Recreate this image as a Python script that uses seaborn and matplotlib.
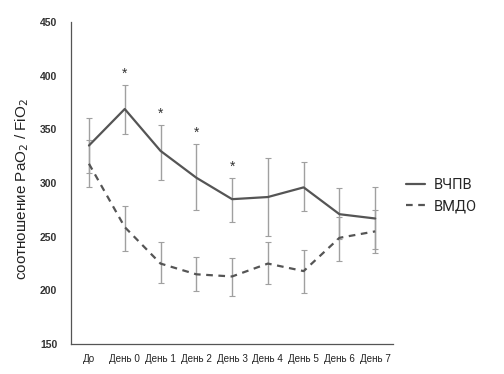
import matplotlib
matplotlib.use("Agg")
import matplotlib.pyplot as plt
import seaborn as sns
import pandas as pd

# ─── Данные ──────────────────────────────────────────────────────────────────
DAYS = ["До", "День 0", "День 1", "День 2", "День 3",
        "День 4", "День 5", "День 6", "День 7"]

VCHPV_MEAN = [335, 369, 330, 305, 285, 287, 296, 271, 267]
VCHPV_LOW  = [309, 346, 303, 275, 264, 251, 274, 248, 239]
VCHPV_HIGH = [361, 391, 354, 336, 305, 323, 320, 295, 296]

VMDO_MEAN = [318, 259, 225, 215, 213, 225, 218, 249, 255]
VMDO_LOW  = [296, 237, 207, 199, 195, 206, 198, 227, 235]
VMDO_HIGH = [340, 279, 245, 231, 230, 245, 238, 268, 275]

SIGNIF = [1, 2, 3, 4]   # индексы дней со звёздочкой

GRIS = "#555555"
GRIS_CLARO = "#a0a0a0"

sns.set_theme(style="white")
plt.rcParams["font.family"] = ["Liberation Sans", "DejaVu Sans"]

df = pd.DataFrame({
    "day": DAYS * 2,
    "val": VCHPV_MEAN + VMDO_MEAN,
    "group": ["ВЧПВ"] * len(DAYS) + ["ВМДО"] * len(DAYS),
})

fig = plt.figure(figsize=(5.04, 3.74), dpi=100)
ax = fig.add_axes([0.141, 0.080, 0.639, 0.861])

# barras de error
xs = list(range(len(DAYS)))
for mean, low, high in [(VCHPV_MEAN, VCHPV_LOW, VCHPV_HIGH),
                        (VMDO_MEAN, VMDO_LOW, VMDO_HIGH)]:
    err = [[m - l for m, l in zip(mean, low)], [h - m for m, h in zip(mean, high)]]
    ax.errorbar(xs, mean, yerr=err, fmt="none", ecolor=GRIS_CLARO,
                elinewidth=1.0, capsize=2, capthick=0.8, zorder=1)

sns.lineplot(data=df, x="day", y="val", style="group", ax=ax,
             color=GRIS, linewidth=1.6, sort=False,
             dashes={"ВЧПВ": "", "ВМДО": (3, 2.5)}, legend=True, zorder=3)

for i in SIGNIF:
    ax.text(i, VCHPV_HIGH[i] + 4, "*", ha="center", va="bottom",
            fontsize=10, color="#333333")

ax.set_xlim(-0.5, len(DAYS) - 0.5)
ax.set_ylim(150, 450)
ax.set_yticks(range(150, 451, 50))
ax.set_xticks(xs)
ax.set_xticklabels(DAYS, fontsize=7.1, color="#222222")
ax.set_xticks([x - 0.5 for x in range(len(DAYS) + 1)], minor=True)
ax.tick_params(axis="x", which="major", length=0, pad=7)
ax.tick_params(axis="x", which="minor", length=4, width=0.8, color=GRIS, direction="out")
ax.tick_params(axis="y", length=4, width=0.8, color=GRIS, direction="out",
               labelsize=7.5, labelcolor="#333333", pad=6)
for lab in ax.get_yticklabels():
    lab.set_fontweight("bold")

ax.set_xlabel("")
ax.set_ylabel("соотношение PaO$_2$ / FiO$_2$", fontsize=11, color="#222222")
ax.yaxis.set_label_coords(-0.125, 0.48)

for s in ["top", "right"]:
    ax.spines[s].set_visible(False)
for s in ["left", "bottom"]:
    ax.spines[s].set_color(GRIS)
    ax.spines[s].set_linewidth(0.9)

ax.legend(loc="center left", bbox_to_anchor=(1.0, 0.46), frameon=False,
          handlelength=1.3, handletextpad=0.6, labelspacing=0.5,
          prop={"family": "Roboto", "size": 10.5})

fig.savefig("out.png", dpi=100)
